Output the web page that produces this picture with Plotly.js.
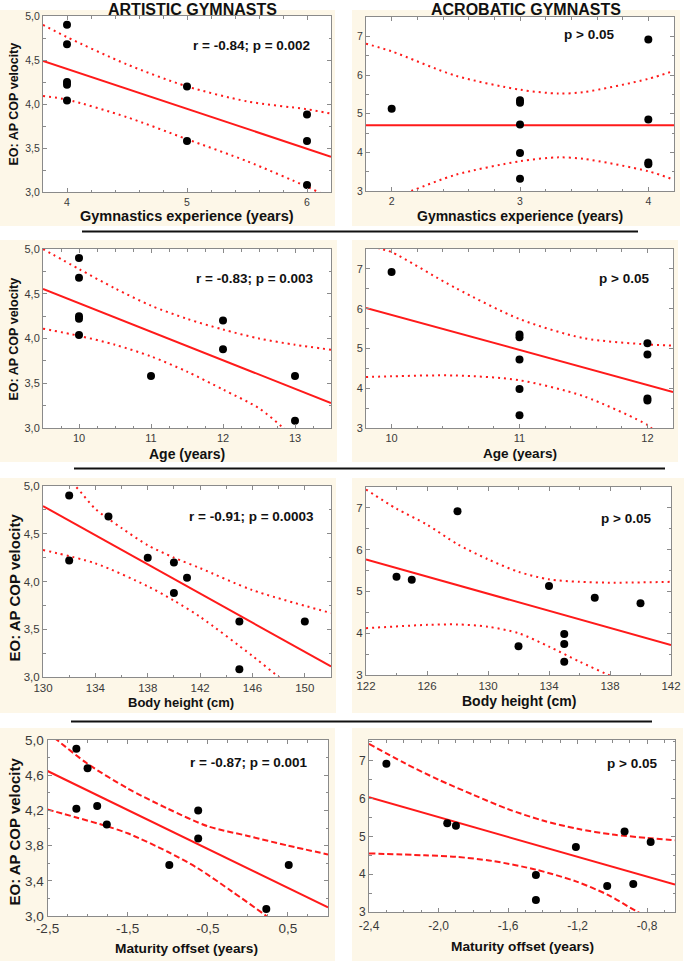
<!DOCTYPE html>
<html><head><meta charset="utf-8">
<script src="https://cdn.plot.ly/plotly-3.0.1.min.js"></script>
<style>html,body{margin:0;padding:0;background:#fff}</style>
</head><body><div id="chart" style="width:685px;height:961px"></div>
<script>
// ---------- DATA ----------
// EO: AP COP velocity (same gymnasts in every panel of a column)
const artVelocity  = [4.90, 4.68, 4.25, 4.22, 4.04, 4.20, 3.58, 3.88, 3.58, 3.08];
const artExperience = [4, 4, 4, 4, 4, 5, 5, 6, 6, 6];
const artAge        = [10, 10, 10, 10, 10, 12, 11, 12, 13, 13];
const artHeight     = [132, 135, 138, 132, 141, 140, 145, 140, 150, 145];
const artMaturity   = [-2.14, -2.00, -1.88, -2.14, -1.76, -0.62, -0.98, -0.62, 0.51, 0.23];

const acroVelocity   = [6.92, 5.35, 5.28, 5.13, 4.85, 4.72, 3.98, 3.74, 3.69, 3.32];
const acroExperience = [4, 3, 3, 2, 4, 3, 3, 4, 4, 3];
const acroAge        = [10, 11, 11, 12, 12, 11, 11, 12, 12, 11];
const acroHeight     = [128, 124, 125, 134, 137, 140, 135, 135, 132, 135];
const acroMaturity   = [-2.30, -1.95, -1.90, -0.93, -0.78, -1.21, -1.44, -0.88, -1.03, -1.44];

// regression lines and 95% confidence bands
const fit1X = [3.8, 6.2], fit1Y = [4.49, 3.40];
const up1X = [3.8, 4.0, 4.5, 5.0, 5.5, 6.0, 6.2], up1Y = [4.90, 4.76, 4.45, 4.20, 4.03, 3.94, 3.89];
const lo1X = [3.8, 4.0, 4.5, 5.0, 5.5, 6.0, 6.2], lo1Y = [4.09, 4.05, 3.85, 3.60, 3.35, 3.06, 2.93];

const fit2X = [1.8, 4.2], fit2Y = [4.70, 4.70];
const up2X = [1.8, 2.0, 2.5, 3.0, 3.3, 3.5, 4.0, 4.2], up2Y = [6.81, 6.61, 5.98, 5.62, 5.52, 5.56, 5.90, 6.11];
const lo2X = [1.8, 2.15, 2.5, 3.0, 3.3, 3.5, 4.0, 4.2], lo2Y = [2.60, 3.0, 3.42, 3.77, 3.87, 3.83, 3.51, 3.29];

const fit3X = [9.5, 13.5], fit3Y = [4.553, 3.279];
const up3X = [9.5, 10, 10.5, 11, 11.5, 12, 12.5, 13, 13.5], up3Y = [5.0, 4.776, 4.56, 4.367, 4.22, 4.10, 4.00, 3.93, 3.875];
const lo3X = [9.5, 10, 10.5, 11, 11.5, 12, 12.5, 12.84, 13.5], lo3Y = [4.11, 4.03, 3.93, 3.80, 3.63, 3.43, 3.22, 3.0, 2.55];

const fit4X = [9.8, 12.2], fit4Y = [6.02, 3.905];
const up4X = [9.8, 9.92, 10, 10.5, 11, 11.5, 12, 12.2], up4Y = [7.62, 7.5, 7.42, 6.52, 5.74, 5.26, 5.10, 5.07];
const lo4X = [9.8, 10, 10.5, 11, 11.5, 12, 12.03, 12.2], lo4Y = [4.28, 4.30, 4.32, 4.20, 3.80, 3.08, 3.0, 2.7];

const fit5X = [130, 152], fit5Y = [4.79, 3.11];
const up5X = [130, 132.45, 134, 136, 138, 140, 142, 146, 152], up5Y = [5.25, 5.0, 4.76, 4.56, 4.38, 4.25, 4.14, 3.91, 3.67];
const lo5X = [130, 134, 138, 140, 142, 146, 148, 152], lo5Y = [4.33, 4.19, 3.95, 3.80, 3.63, 3.22, 3.0, 2.55];

const fit6X = [122, 142], fit6Y = [5.765, 3.717];
const up6X = [122, 124, 126, 128, 130, 132, 134, 136, 138, 142], up6Y = [7.44, 6.98, 6.60, 6.13, 5.77, 5.47, 5.29, 5.23, 5.21, 5.23];
const lo6X = [122, 126, 128, 130, 132, 134, 136, 137.9, 142], lo6Y = [4.12, 4.20, 4.21, 4.155, 4.0, 3.68, 3.32, 3.0, 2.3];

const fit7X = [-2.5, 1.0], fit7Y = [4.648, 3.098];
const up7X = [-2.5, -2.38, -2.0, -1.5, -1.0, -0.5, 0.0, 0.5, 1.0], up7Y = [5.09, 5.0, 4.73, 4.45, 4.22, 4.02, 3.91, 3.80, 3.70];
const lo7X = [-2.5, -2.14, -1.76, -1.5, -1.0, -0.62, -0.2, 0.23, 0.5], lo7Y = [4.21, 4.12, 4.02, 3.94, 3.73, 3.54, 3.28, 3.0, 2.8];

const fit8X = [-2.4, -0.64], fit8Y = [6.035, 3.726];
const up8X = [-2.4, -2.2, -2.0, -1.8, -1.6, -1.4, -1.2, -1.0, -0.8, -0.64], up8Y = [7.45, 6.95, 6.50, 6.10, 5.72, 5.42, 5.20, 5.05, 4.96, 4.90];
const lo8X = [-2.4, -2.08, -1.9, -1.69, -1.44, -1.21, -1.02, -0.87, -0.64], lo8Y = [4.55, 4.50, 4.46, 4.35, 4.12, 3.81, 3.44, 3.04, 2.5];

// tick labels
const mat7TickVals = [-2.5, -1.5, -0.5, 0.5], mat7TickText = ['-2,5', '-1,5', '-0,5', '0,5'];
const mat8TickVals = [-2.4, -2.0, -1.6, -1.2, -0.8], mat8TickText = ['-2,4', '-2,0', '-1,6', '-1,2', '-0,8'];
const art7YTickVals = [3.0, 3.4, 3.8, 4.2, 4.6, 5.0], art7YTickText = ['3,0', '3,4', '3,8', '4,2', '4,6', '5,0'];

const colTitles = ['ARTISTIC GYMNASTS', 'ACROBATIC GYMNASTS'];
const xTitles = ['Gymnastics experience (years)', 'Gymnastics experience (years)', 'Age (years)', 'Age (years)',
                 'Body height (cm)', 'Body height (cm)', 'Maturity offset (years)', 'Maturity offset (years)'];
const yTitle = 'EO: AP COP velocity';
const statTexts = ['r = -0.84; p = 0.002', 'p > 0.05', 'r = -0.83; p = 0.003', 'p > 0.05',
                   'r = -0.91; p = 0.0003', 'p > 0.05', 'r = -0.87; p = 0.001', 'p > 0.05'];

// ---------- LAYOUT HELPERS ----------
const W = 685, H = 961;
const FONT = 'Liberation Sans, Arial, sans-serif';
const px = v => v / W, py = v => 1 - v / H;

const panels = [
  {x: [43, 331], y: [16, 192], xr: [3.8, 6.2], xd: 1, x0: 0, xm: 0.2, yr: [3, 5], yd: 0.5, ym: 0.25, tf: 10.5,
   xs: artExperience, ys: artVelocity, f: [fit1X, fit1Y], u: [up1X, up1Y], l: [lo1X, lo1Y], dash: '2px,4px', art: true},
  {x: [366, 674], y: [17, 191], xr: [1.8, 4.2], xd: 1, x0: 0, xm: 0.2, yr: [3, 7.5], yd: 1, ym: 0.5, tf: 10.5,
   xs: acroExperience, ys: acroVelocity, f: [fit2X, fit2Y], u: [up2X, up2Y], l: [lo2X, lo2Y], dash: '2px,4px'},
  {x: [43, 331], y: [249, 428], xr: [9.5, 13.5], xd: 1, x0: 0, xm: 0.25, yr: [3, 5], yd: 0.5, ym: 0.25, tf: 11,
   xs: artAge, ys: artVelocity, f: [fit3X, fit3Y], u: [up3X, up3Y], l: [lo3X, lo3Y], dash: '2px,4px', art: true},
  {x: [366, 673], y: [249, 428], xr: [9.8, 12.2], xd: 1, x0: 0, xm: 0.2, yr: [3, 7.5], yd: 1, ym: 0.5, tf: 11,
   xs: acroAge, ys: acroVelocity, f: [fit4X, fit4Y], u: [up4X, up4Y], l: [lo4X, lo4Y], dash: '2px,4px'},
  {x: [43, 331], y: [486, 677], xr: [130, 152], xd: 4, x0: 130, xm: 2, yr: [3, 5], yd: 0.5, ym: 0.25, tf: 11.5,
   xs: artHeight, ys: artVelocity, f: [fit5X, fit5Y], u: [up5X, up5Y], l: [lo5X, lo5Y], dash: '2px,4px', art: true},
  {x: [366, 671], y: [487, 675], xr: [122, 142], xd: 4, x0: 122, xm: 2, yr: [3, 7.5], yd: 1, ym: 0.5, tf: 11.5,
   xs: acroHeight, ys: acroVelocity, f: [fit6X, fit6Y], u: [up6X, up6Y], l: [lo6X, lo6Y], dash: '2px,4px'},
  {x: [47.5, 328], y: [740, 916], xr: [-2.5, 1.0], xm: 0.25, yr: [3, 5], ym: 0.2, tf: 13.5,
   xtv: mat7TickVals, xtt: mat7TickText, ytv: art7YTickVals, ytt: art7YTickText,
   xs: artMaturity, ys: artVelocity, f: [fit7X, fit7Y], u: [up7X, up7Y], l: [lo7X, lo7Y], dash: '6px,3px'},
  {x: [369, 675], y: [740, 912], xr: [-2.4, -0.64], xm: 0.1, yr: [3, 7.55], yd: 1, ym: 0.5, tf: 12, xso: 3,
   xtv: mat8TickVals, xtt: mat8TickText,
   xs: acroMaturity, ys: acroVelocity, f: [fit8X, fit8Y], u: [up8X, up8Y], l: [lo8X, lo8Y], dash: '6px,3px'}
];

const RED = '#ff1a1a';
const traces = [];
const layout = {
  width: W, height: H, margin: {l: 0, r: 0, t: 0, b: 0},
  paper_bgcolor: '#ffffff', plot_bgcolor: 'rgba(0,0,0,0)',
  separators: ', ', showlegend: false, hovermode: false,
  font: {family: FONT, color: '#222'},
  shapes: [], annotations: []
};

// beige panel backgrounds
const beige = '#fdf7e8';
const bgRects = [
  [0, 10, 335, 226], [352, 10, 680, 226],
  [0, 240, 337, 462], [352, 240, 678, 462],
  [0, 478, 336, 713], [352, 478, 684, 713],
  [0, 728, 335, 961], [352, 728, 683, 961]
];
bgRects.forEach(r => layout.shapes.push({type: 'rect', xref: 'paper', yref: 'paper', layer: 'below',
  x0: px(r[0]), x1: px(r[2]), y0: py(r[3]), y1: py(r[1]), line: {width: 0}, fillcolor: beige}));

// divider lines between rows
[[82, 638, 231.5], [74, 665, 468.5], [71, 652, 721.5]].forEach(d => layout.shapes.push({
  type: 'line', xref: 'paper', yref: 'paper', layer: 'above',
  x0: px(d[0]), x1: px(d[1]), y0: py(d[2]), y1: py(d[2]), line: {color: '#111', width: 2}}));

panels.forEach((p, i) => {
  const n = i + 1, sx = n === 1 ? '' : String(n);
  const xa = 'x' + sx, ya = 'y' + sx;
  // white plot area
  layout.shapes.push({type: 'rect', xref: 'paper', yref: 'paper', layer: 'below',
    x0: px(p.x[0]), x1: px(p.x[1]), y0: py(p.y[1]), y1: py(p.y[0]), line: {width: 0}, fillcolor: '#ffffff'});
  const common = {showgrid: false, zeroline: false, showline: true, linecolor: '#8a8a8a', linewidth: 1,
    mirror: 'ticks', ticks: 'inside', ticklen: 4, tickcolor: '#8a8a8a', tickwidth: 1,
    tickfont: {family: FONT, size: p.tf, color: '#3a3a3a'}, fixedrange: true};
  const xaxis = Object.assign({}, common, {domain: [px(p.x[0]), px(p.x[1])], range: p.xr, anchor: ya,
    minor: {dtick: p.xm, ticks: 'inside', ticklen: 2.5, tickcolor: '#8a8a8a', showgrid: false}});
  if (p.xso) xaxis.ticklabelstandoff = p.xso;
  if (p.xtv) { xaxis.tickmode = 'array'; xaxis.tickvals = p.xtv; xaxis.ticktext = p.xtt; xaxis.minor.tick0 = p.xr[0]; }
  else { xaxis.dtick = p.xd; xaxis.tick0 = p.x0; xaxis.minor.tick0 = p.x0; }
  const yaxis = Object.assign({}, common, {domain: [py(p.y[1]), py(p.y[0])], range: p.yr, anchor: xa,
    minor: {dtick: p.ym, ticks: 'inside', ticklen: 2.5, tickcolor: '#8a8a8a', showgrid: false}});
  if (p.ytv) { yaxis.tickmode = 'array'; yaxis.tickvals = p.ytv; yaxis.ticktext = p.ytt; }
  else { yaxis.dtick = p.yd; yaxis.tick0 = 0; if (p.art) yaxis.tickformat = '.1f'; }
  layout['xaxis' + sx] = xaxis;
  layout['yaxis' + sx] = yaxis;

  traces.push({type: 'scatter', mode: 'lines', x: p.u[0], y: p.u[1], xaxis: xa, yaxis: ya,
    line: {color: RED, width: 2, dash: p.dash, shape: 'spline', smoothing: 0.8}});
  traces.push({type: 'scatter', mode: 'lines', x: p.l[0], y: p.l[1], xaxis: xa, yaxis: ya,
    line: {color: RED, width: 2, dash: p.dash, shape: 'spline', smoothing: 0.8}});
  traces.push({type: 'scatter', mode: 'lines', x: p.f[0], y: p.f[1], xaxis: xa, yaxis: ya,
    line: {color: RED, width: 2}});
  traces.push({type: 'scatter', mode: 'markers', x: p.xs, y: p.ys, xaxis: xa, yaxis: ya,
    marker: {color: '#000', size: 8, line: {width: 0}}});
});

function ann(text, x, y, size, extra) {
  layout.annotations.push(Object.assign({text: text, xref: 'paper', yref: 'paper', x: px(x), y: py(y),
    xanchor: 'center', yanchor: 'middle', showarrow: false,
    font: {family: FONT, size: size, color: '#111'}}, extra || {}));
}
ann('<b>' + colTitles[0] + '</b>', 192.5, 9.5, 16);
ann('<b>' + colTitles[1] + '</b>', 526, 9.5, 16);

const statPos = [[252, 46], [589, 34], [255, 279], [624, 279], [251, 516], [626, 518], [249.5, 762], [632, 763]];
statTexts.forEach((t, i) => ann('<b>' + t + '</b>', statPos[i][0], statPos[i][1], 13.5));

const xtPos = [[187, 216.5, 14.5], [520, 216.5, 14], [187, 454, 14], [520, 453.5, 13.6],
               [181, 702.5, 13], [519, 700.5, 14], [187, 948.5, 13.7], [522, 946, 13.7]];
xTitles.forEach((t, i) => ann('<b>' + t + '</b>', xtPos[i][0], xtPos[i][1], xtPos[i][2]));

[[104, 12.5], [339, 12.5], [588, 15], [832, 15]].forEach(v =>
  ann('<b>' + yTitle + '</b>', 13.5, v[0], v[1], {textangle: -90}));

Plotly.newPlot('chart', traces, layout, {staticPlot: true, displayModeBar: false});
</script></body></html>
